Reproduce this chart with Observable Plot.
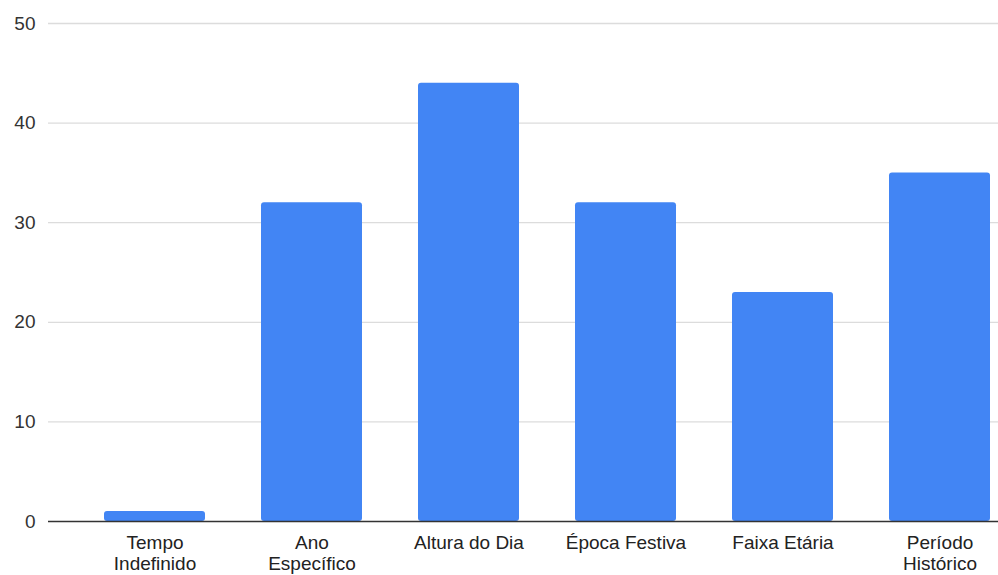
<!DOCTYPE html>
<html>
<head>
<meta charset="utf-8">
<script src="https://cdn.jsdelivr.net/npm/d3@7"></script>
<script src="https://cdn.jsdelivr.net/npm/@observablehq/plot@0.6"></script>
<style>
  html, body { margin: 0; padding: 0; background: #fff; }
  #chart svg { display: block; }
</style>
</head>
<body>
<div id="chart"></div>
<script>
// Categories (tick labels, with line breaks) and their counts
const categories = ["Tempo\nIndefinido", "Ano\nEspecífico", "Altura do Dia", "Época Festiva", "Faixa Etária", "Período\nHistórico"];
const counts = [1, 32, 44, 32, 23, 35];
const yTicks = [0, 10, 20, 30, 40, 50];

const rows = categories.map((c, i) => ({category: c, count: counts[i]}));

const chart = Plot.plot({
  width: 998,
  height: 575,
  marginTop: 23,
  marginBottom: 54,
  marginLeft: 48,
  marginRight: 0,
  style: {fontFamily: "Liberation Sans, Arial, sans-serif", fontSize: "19px", color: "#333", background: "#fff"},
  x: {domain: categories, range: [104, 991], paddingInner: 0.354, paddingOuter: 0, label: null},
  y: {domain: [0, 50], label: null},
  marks: [
    Plot.ruleY(yTicks.filter(d => d > 0), {stroke: "#dcdcdc", strokeWidth: 1.3}),
    Plot.barY(rows, {x: "category", y: "count", fill: "#4285f4", rx: 3}),
    Plot.ruleY([0], {stroke: "#333", strokeWidth: 1.5}),
    Plot.axisY(yTicks, {tickSize: 0, tickPadding: 13, fill: "#333", fontSize: 19}),
    Plot.axisX({tickSize: 0, tickPadding: 13, fill: "#222", fontSize: 19, lineHeight: 1.08})
  ]
});

document.getElementById("chart").appendChild(chart);
</script>
</body>
</html>
